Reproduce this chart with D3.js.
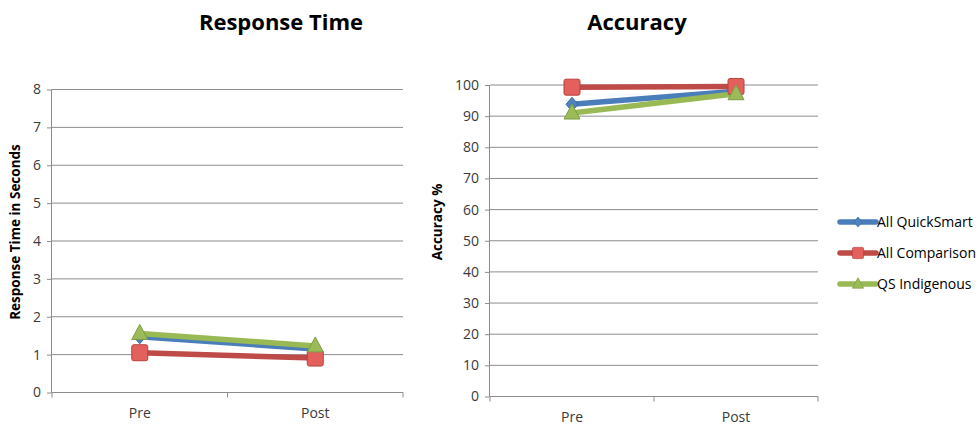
<!DOCTYPE html>
<html><head><meta charset="utf-8">
<script src="https://cdn.jsdelivr.net/npm/d3@7"></script>
<style>body{margin:0;background:#fff}svg{display:block;font-family:"Open Sans",Lato,sans-serif}</style>
</head><body><svg id="c" width="980" height="428"></svg>
<script>
const categories = ["Pre", "Post"];
const seriesNames = ["All QuickSmart", "All Comparison", "QS Indigenous"];
const rtQuickSmart = [1.47, 1.15];
const rtComparison = [1.05, 0.91];
const rtIndigenous = [1.56, 1.23];
const accQuickSmart = [93.8, 98.0];
const accComparison = [99.3, 99.5];
const accIndigenous = [91.0, 97.2];
const rtTicks = [0,1,2,3,4,5,6,7,8];
const accTicks = [0,10,20,30,40,50,60,70,80,90,100];

const colors = ["#4a7ebb", "#be4b48", "#98b954"];
const markerFill = ["#4f81bd", "#e3605c", "#9bbb59"];
const markerStroke = ["#3a6aa6", "#b9403d", "#7e9c45"];
const shapes = ["diamond", "square", "triangle"];

const svg = d3.select("#c");

function drawMarker(g, shape, i, x, y) {
  if (shape === "square") {
    g.append("rect").attr("x", x-8).attr("y", y-8).attr("width", 16).attr("height", 16).attr("rx",2)
      .attr("fill", markerFill[i]).attr("stroke", markerStroke[i]).attr("stroke-width", 1);
  } else if (shape === "triangle") {
    g.append("path").attr("d", `M${x},${y-9}L${x+8},${y+6}L${x-8},${y+6}Z`)
      .attr("fill", markerFill[i]).attr("stroke", markerStroke[i]).attr("stroke-width", 1);
  } else {
    g.append("path").attr("d", `M${x},${y-7}L${x+6},${y}L${x},${y+7}L${x-6},${y}Z`)
      .attr("fill", markerFill[i]).attr("stroke", markerStroke[i]).attr("stroke-width", 1);
  }
}

function chart(opts) {
  const {x0, x1, y0, y1, domain, ticks, data, title, titleX, ylabel, ylabelX, ylabelY, catDy} = opts;
  const x = d3.scaleBand().domain(categories).range([x0, x1]).paddingInner(0).paddingOuter(0);
  const y = d3.scaleLinear().domain(domain).range([y0, y1]);
  const g = svg.append("g");
  g.selectAll("line.grid").data(ticks.slice(1)).enter().append("line")
    .attr("x1", x0).attr("x2", x1).attr("y1", d => y(d)).attr("y2", d => y(d))
    .attr("stroke", "#8c8c8c").attr("stroke-width", 1);
  const ya = d3.axisLeft(y).tickValues(ticks).tickSize(5).tickPadding(6).tickFormat(d3.format("d"));
  const yg = g.append("g").attr("transform", `translate(${x0},0)`).call(ya);
  yg.select(".domain").attr("stroke", "#8c8c8c").attr("d", `M-0.5,${y0}V${y1}`);
  yg.selectAll(".tick line").attr("stroke", "#8c8c8c");
  yg.selectAll(".tick text").attr("font-size", 14).attr("fill", "#3a3a3a").attr("font-family", "Open Sans, sans-serif");
  const xg = g.append("g").attr("transform", `translate(0,${y0})`);
  xg.append("line").attr("x1", x0).attr("x2", x1).attr("y1", 0).attr("y2", 0).attr("stroke", "#8c8c8c");
  const bounds = [x0, x(categories[1]), x1];
  xg.selectAll("line.t").data(bounds).enter().append("line")
    .attr("x1", d => d).attr("x2", d => d).attr("y1", 0).attr("y2", 5).attr("stroke", "#8c8c8c");
  xg.selectAll("text").data(categories).enter().append("text")
    .attr("x", d => x(d) + x.bandwidth()/2).attr("y", catDy).attr("text-anchor", "middle")
    .attr("font-size", 14).attr("fill", "#3a3a3a").text(d => d);
  const line = d3.line().x((d, j) => x(categories[j]) + x.bandwidth()/2).y(d => y(d));
  const order = [0, 1, 2];
  order.forEach(i => {
    g.append("path").attr("d", line(data[i])).attr("fill", "none")
      .attr("stroke", colors[i]).attr("stroke-width", 5.5).attr("stroke-linecap", "round");
  });
  order.forEach(i => {
    data[i].forEach((v, j) => drawMarker(g, shapes[i], i, x(categories[j]) + x.bandwidth()/2, y(v)));
  });
  svg.append("text").attr("x", titleX).attr("y", 30).attr("text-anchor", "middle")
    .attr("font-size", 22).attr("font-weight", "bold").attr("fill", "#000").text(title);
  svg.append("text").attr("transform", `translate(${ylabelX},${ylabelY}) rotate(-90)`)
    .attr("text-anchor", "middle").attr("font-size", 13.5).attr("font-weight", "bold").attr("fill", "#000").text(ylabel);
}

chart({x0: 52, x1: 403, y0: 392.5, y1: 89.5, domain: [0, 8], ticks: rtTicks,
  data: [rtQuickSmart, rtComparison, rtIndigenous], title: "Response Time", titleX: 281,
  ylabel: "Response Time in Seconds", ylabelX: 20, ylabelY: 232, catDy: 25});
chart({x0: 490, x1: 818, y0: 396.5, y1: 85, domain: [0, 100], ticks: accTicks,
  data: [accQuickSmart, accComparison, accIndigenous], title: "Accuracy", titleX: 637,
  ylabel: "Accuracy %", ylabelX: 442, ylabelY: 222, catDy: 25});

const lg = svg.append("g");
const ly = [222, 253, 284];
seriesNames.forEach((n, i) => {
  lg.append("line").attr("x1", 840).attr("x2", 876).attr("y1", ly[i]).attr("y2", ly[i])
    .attr("stroke", colors[i]).attr("stroke-width", 5.5).attr("stroke-linecap", "round");
  const mg = lg.append("g").attr("transform", `translate(858,${ly[i]}) scale(0.7) translate(-858,${-ly[i]})`);
  drawMarker(mg, shapes[i], i, 858, ly[i]);
  lg.append("text").attr("x", 877).attr("y", ly[i] + 5).attr("font-size", 14).attr("fill", "#000").text(n);
});
</script></body></html>
